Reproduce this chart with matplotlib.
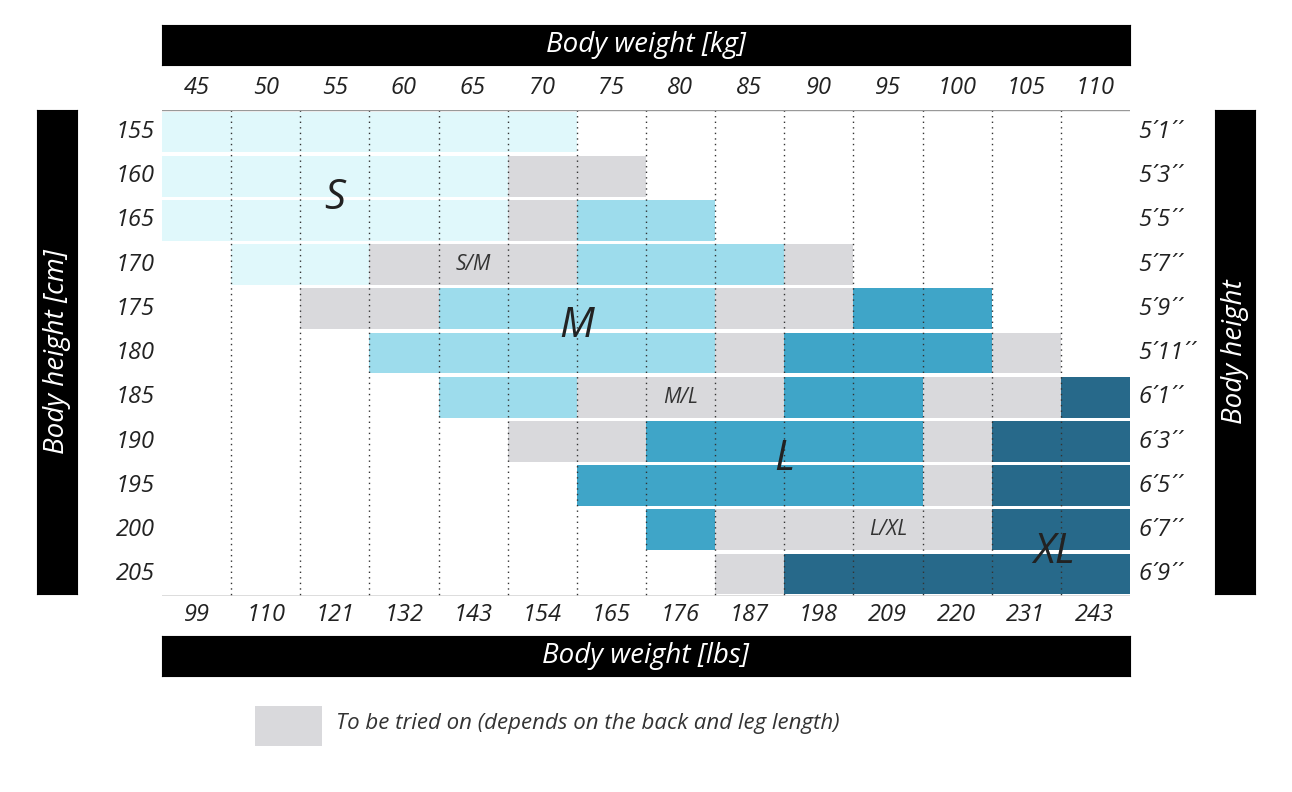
import matplotlib.pyplot as plt
from matplotlib.patches import Rectangle

kg = [45, 50, 55, 60, 65, 70, 75, 80, 85, 90, 95, 100, 105, 110]
lbs = [99, 110, 121, 132, 143, 154, 165, 176, 187, 198, 209, 220, 231, 243]
cm = [155, 160, 165, 170, 175, 180, 185, 190, 195, 200, 205]
ft = ["5´1´´", "5´3´´", "5´5´´", "5´7´´", "5´9´´", "5´11´´", "6´1´´",
      "6´3´´", "6´5´´", "6´7´´", "6´9´´"]

# one string per height row, one letter per weight column
# . empty, S, M, L, X = XL, g = to be tried on
grid = [
    "SSSSSS........",
    "SSSSSgg.......",
    "SSSSSgMM......",
    ".SSgggMMMg....",
    "..ggMMMMggLL..",
    "...MMMMMgLLLg.",
    "....MMgggLLggX",
    ".....ggLLLLgXX",
    "......LLLLLgXX",
    ".......LggggXX",
    "........gXXXXX",
]
colors = {"S": "#e0f8fb", "M": "#9ddcec", "L": "#3fa5c8", "X": "#27698a", "g": "#d9d9dc"}

big_labels = [("S", 2.5, 2.0), ("M", 6.0, 4.9), ("L", 9.0, 7.9), ("XL", 12.9, 10.0)]
small_labels = [("S/M", 4.5, 3.5), ("M/L", 7.5, 6.5), ("L/XL", 10.5, 9.5)]

W, H = 1292, 792
fig = plt.figure(figsize=(W / 100, H / 100), dpi=100)
font = "Open Sans"

def px(x0, y0, w, h):
    return [x0 / W, 1 - (y0 + h) / H, w / W, h / H]

ax = fig.add_axes(px(162, 110, 968, 486))
ax.set_xlim(0, 14)
ax.set_ylim(11, 0)
ax.axis("off")

for r, row in enumerate(grid):
    for c, ch in enumerate(row):
        if ch in colors:
            ax.add_patch(Rectangle((c, r + 0.04), 1, 0.92, facecolor=colors[ch],
                                   edgecolor="none", zorder=1))
for c in range(1, 14):
    ax.plot([c, c], [0, 11], color="#333333", linestyle=(0, (1, 3)), lw=1, zorder=2)
ax.plot([0, 14], [0, 0], color="#999999", lw=1, zorder=2)
ax.plot([0, 14], [11, 11], color="#555555", lw=1, zorder=2)

for t, x, y in big_labels:
    ax.text(x, y, t, fontsize=30, style="italic", family=font, color="#222222",
            ha="center", va="center", zorder=3)
for t, x, y in small_labels:
    ax.text(x, y, t, fontsize=15, style="italic", family=font, color="#333333",
            ha="center", va="center", zorder=3)

for i, (k, l) in enumerate(zip(kg, lbs)):
    x = (162 + 69.1 * (i + 0.5)) / W
    fig.text(x, 1 - 88 / H, str(k), fontsize=17, style="italic", family=font,
             ha="center", va="center", color="#222222")
    fig.text(x, 1 - 615 / H, str(l), fontsize=17, style="italic", family=font,
             ha="center", va="center", color="#222222")
for i, (c, f) in enumerate(zip(cm, ft)):
    y = 1 - (110 + 44.2 * (i + 0.5)) / H
    fig.text(155 / W, y, str(c), fontsize=17, style="italic", family=font,
             ha="right", va="center", color="#222222")
    fig.text(1138 / W, y, f, fontsize=17, style="italic", family=font,
             ha="left", va="center", color="#222222")

bars = [(162, 25, 968, 40), (162, 636, 968, 40), (37, 110, 40, 484), (1215, 110, 40, 484)]
for b in bars:
    bx = fig.add_axes(px(*b))
    bx.set_facecolor("black")
    bx.set_xticks([]); bx.set_yticks([])
fig.text(646 / W, 1 - 45 / H, "Body weight [kg]", fontsize=20, style="italic", family=font,
         color="white", ha="center", va="center")
fig.text(646 / W, 1 - 656 / H, "Body weight [lbs]", fontsize=20, style="italic", family=font,
         color="white", ha="center", va="center")
fig.text(57 / W, 1 - 352 / H, "Body height [cm]", fontsize=20, style="italic", family=font,
         color="white", ha="center", va="center", rotation=90)
fig.text(1235 / W, 1 - 352 / H, "Body height", fontsize=20, style="italic", family=font,
         color="white", ha="center", va="center", rotation=90)

lg = fig.add_axes(px(255, 706, 67, 40))
lg.set_facecolor(colors["g"])
lg.set_xticks([]); lg.set_yticks([])
for s in lg.spines.values():
    s.set_visible(False)
fig.text(336 / W, 1 - 724 / H, "To be tried on (depends on the back and leg length)",
         fontsize=16, style="italic", family=font, color="#333333", ha="left", va="center")

fig.savefig("out.png", dpi=100)
